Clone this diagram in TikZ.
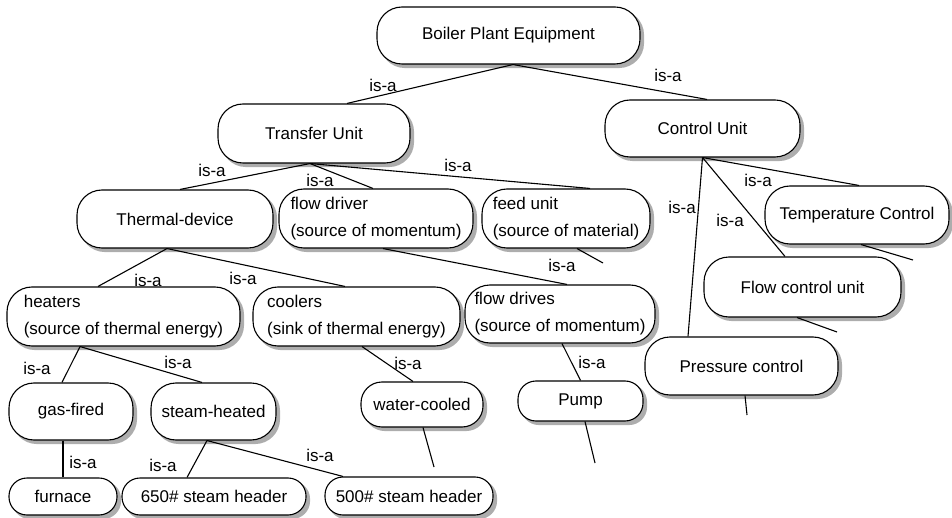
\documentclass[tikz,border=0pt]{standalone}
\usepackage{fontspec}
\setmainfont{Liberation Sans}
\usetikzlibrary{backgrounds}
\begin{document}
\begin{tikzpicture}[x=1pt,y=-1pt,
  box/.style={draw, fill=white, line width=1.1pt, rounded corners=25pt, inner sep=0pt,
    font=\fontsize{17}{27}\selectfont},
  sbox/.style={box, rounded corners=18pt},
  nodeshadow/.style={fill=black!32},
  lbl/.style={inner sep=0pt, font=\fontsize{17}{20}\selectfont},
  conn/.style={line width=1.1pt}]
\useasboundingbox (0,0) rectangle (952,518);
% nodes
\node[box, minimum width=263pt, minimum height=57pt] (bpe) at (508.5,35.5) {Boiler Plant Equipment};
\node[box, minimum width=192pt, minimum height=59pt] (tu) at (314,133.5) {Transfer Unit};
\node[box, minimum width=195pt, minimum height=57pt] (cu) at (702.5,128.5) {Control Unit};
\node[box, minimum width=196pt, minimum height=58pt] (td) at (175,219) {Thermal-device};
\node[box, minimum width=194pt, minimum height=59pt, align=left] (fd) at (376,218.5) {flow driver\\(source of momentum)};
\node[box, minimum width=168pt, minimum height=59pt, align=left] (fu) at (566,218.5) {feed unit\\(source of material)};
\node[box, minimum width=184pt, minimum height=58pt] (tc) at (857,215) {Temperature Control};
\node[box, minimum width=197pt, minimum height=60pt] (fcu) at (802.5,287) {Flow control unit};
\node[box, minimum width=193pt, minimum height=58pt] (pc) at (741.5,366) {Pressure control};
\node[box, minimum width=233pt, minimum height=59pt, align=left] (he) at (123.5,316.5) {heaters\\(source of thermal energy)};
\node[box, minimum width=207pt, minimum height=59pt, align=left] (co) at (356.5,316.5) {coolers\\(sink of thermal energy)};
\node[box, minimum width=190pt, minimum height=58pt, align=left] (fds) at (560,314) {flow drives\\(source of momentum)};
\node[box, minimum width=124pt, minimum height=57pt] (gf) at (71,411.5) {gas-fired};
\node[box, minimum width=125pt, minimum height=57pt] (sh) at (213.5,411.5) {steam-heated};
\node[box, rounded corners=21pt, minimum width=122pt, minimum height=45pt] (wc) at (422,404.5) {water-cooled};
\node[sbox, minimum width=125pt, minimum height=40pt] (pu) at (580.5,401) {Pump};
\node[sbox, minimum width=108pt, minimum height=37pt] (fur) at (63,496.5) {furnace};
\node[sbox, minimum width=184pt, minimum height=37pt] (h650) at (214,496.5) {650\# steam header};
\node[sbox, minimum width=168pt, minimum height=38pt] (h500) at (409,496) {500\# steam header};
% shadows
\begin{scope}[on background layer]
\foreach \n/\r in {bpe/25,tu/25,cu/25,td/25,fd/25,fu/25,tc/25,fcu/25,pc/25,he/25,co/25,fds/25,gf/25,sh/25,wc/21,pu/18,fur/18,h650/18,h500/18}
  \fill[nodeshadow, rounded corners=\r pt] ([xshift=3.5pt,yshift=-3.5pt]\n.south west) rectangle ([xshift=3.5pt,yshift=-3.5pt]\n.north east);
\end{scope}
% free ends
\coordinate (e1) at (603,263);
\coordinate (e2) at (913,260);
\coordinate (e3) at (837,332);
\coordinate (e4) at (747,415);
\coordinate (e5) at (595,463);
\coordinate (e6) at (434,467);
% connectors
\draw[conn] ([xshift=4.5pt]bpe.south) -- ([xshift=33pt]tu.north);
\draw[conn] ([xshift=4.5pt]bpe.south) -- ([xshift=4.5pt]cu.north);
\draw[conn] ([xshift=-4pt]tu.south) -- ([xshift=5pt]td.north);
\draw[conn] ([xshift=-4pt]tu.south) -- ([xshift=-3pt]fd.north);
\draw[conn] ([xshift=-4pt]tu.south) -- ([xshift=24pt]fu.north);
\draw[conn] (cu.south) -- ([xshift=2pt]tc.north);
\draw[conn] (cu.south) -- ([xshift=-17.5pt]fcu.north);
\draw[conn] (cu.south) -- ([xshift=-53.5pt]pc.north);
\draw[conn] ([xshift=-8pt]td.south) -- ([xshift=-25.5pt]he.north);
\draw[conn] ([xshift=-8pt]td.south) -- ([xshift=-11.5pt]co.north);
\draw[conn] ([xshift=7pt]fd.south) -- ([xshift=7pt]fds.north);
\draw[conn] ([xshift=11pt]fu.south) -- (e1);
\draw[conn] ([xshift=4pt]tc.south) -- (e2);
\draw[conn] ([xshift=-5.5pt]fcu.south) -- (e3);
\draw[conn] ([xshift=3.5pt]pc.south) -- (e4);
\draw[conn] ([xshift=-43.5pt]he.south) -- ([xshift=-9pt]gf.north);
\draw[conn] ([xshift=-43.5pt]he.south) -- ([xshift=-11.5pt]sh.north);
\draw[conn] ([xshift=5.5pt]co.south) -- ([xshift=-9pt]wc.north);
\draw[conn] ([xshift=2pt]fds.south) -- (pu.north);
\draw[conn] ([xshift=4.5pt]pu.south) -- (e5);
\draw[conn] ([xshift=1pt]wc.south) -- (e6);
\draw[conn] ([xshift=-8pt]gf.south) -- (fur.north);
\draw[conn] ([xshift=-6.5pt]sh.south) -- ([xshift=-27pt]h650.north);
\draw[conn] ([xshift=-6.5pt]sh.south) -- ([xshift=-66pt]h500.north);
% labels
\node[lbl] (l1) at (383,85) {is-a};
\node[lbl] (l2) at (668,75) {is-a};
\node[lbl] (l3) at (212,170) {is-a};
\node[lbl] (l4) at (320,180) {is-a};
\node[lbl] (l5) at (458,165) {is-a};
\node[lbl] (l6) at (758,180) {is-a};
\node[lbl] (l7) at (730,220) {is-a};
\node[lbl] (l8) at (682,207) {is-a};
\node[lbl] (l9) at (148,280) {is-a};
\node[lbl] (l10) at (243,278) {is-a};
\node[lbl] (l11) at (562,265) {is-a};
\node[lbl] (l16) at (37,368) {is-a};
\node[lbl] (l17) at (178,362) {is-a};
\node[lbl] (l18) at (408,363) {is-a};
\node[lbl] (l19) at (592,362) {is-a};
\node[lbl] (l22) at (83,462) {is-a};
\node[lbl] (l23) at (163,465) {is-a};
\node[lbl] (l24) at (320,455) {is-a};
\end{tikzpicture}
\end{document}
